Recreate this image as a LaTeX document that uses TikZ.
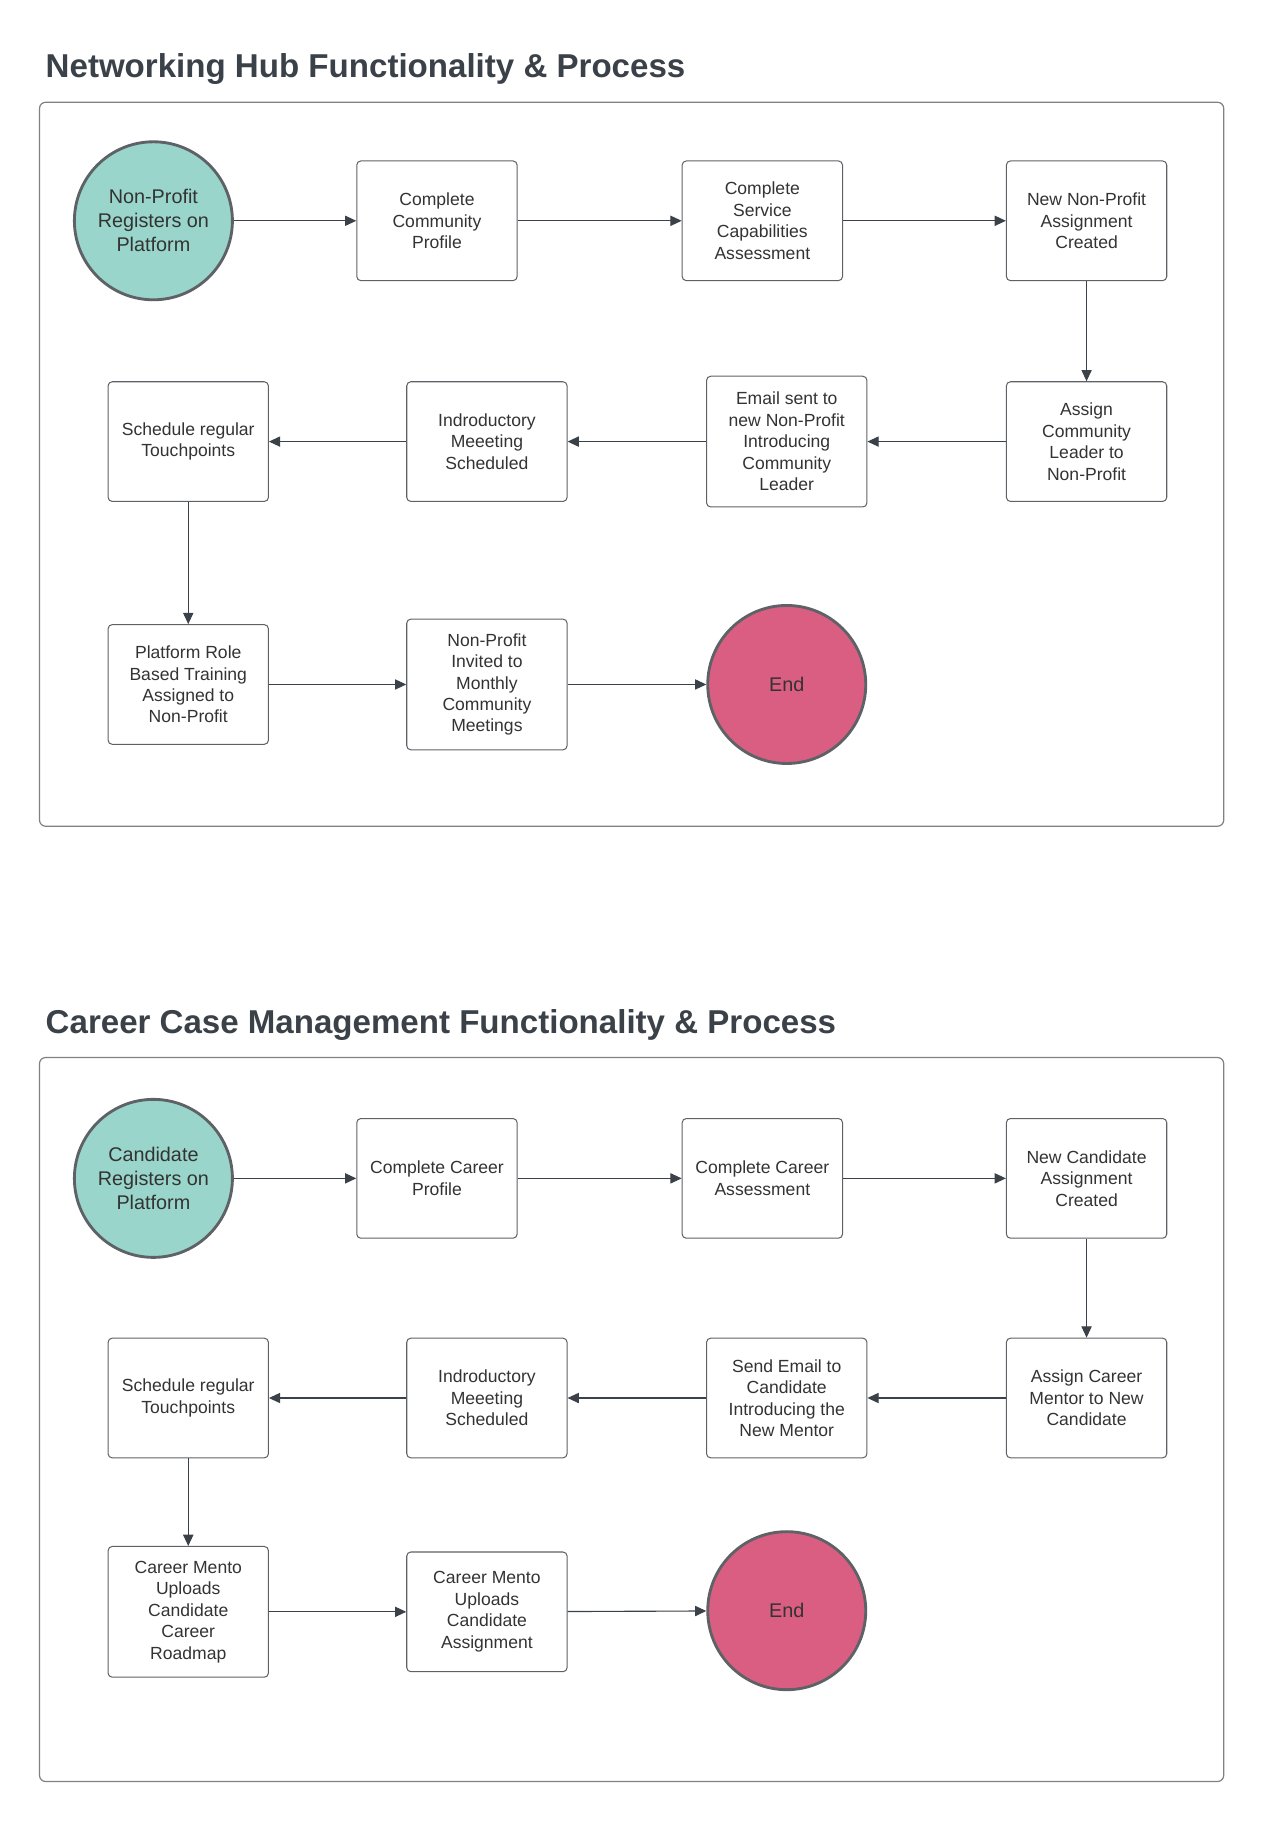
\documentclass[tikz,border=0pt]{standalone}
\usepackage{fontspec}
\setmainfont{Liberation Sans}
\usetikzlibrary{arrows.meta}

\definecolor{inkgray}{HTML}{3B4148}
\definecolor{linegray}{HTML}{5E6266}
\definecolor{startteal}{HTML}{99D5CA}
\definecolor{endpink}{HTML}{DA5E82}

\begin{document}
\begin{tikzpicture}[x=0.02cm, y=-0.02cm,
  title/.style={anchor=west, inner sep=0pt, text=inkgray,
    font=\fontsize{16.2}{19}\selectfont\bfseries},
  panel/.style={draw=linegray!80, line width=0.6pt, rounded corners=3pt},
  proc/.style={draw=linegray, line width=0.5pt, rounded corners=2pt, fill=white,
    minimum width=2.76cm, minimum height=2.06cm, align=center, inner sep=1pt,
    text=black!80, font=\fontsize{8.6}{10.5}\selectfont},
  tall/.style={minimum height=2.25cm},
  startc/.style={circle, draw=linegray, line width=1.4pt, fill=startteal,
    minimum size=2.72cm, inner sep=0pt, align=center, text=black!80,
    font=\fontsize{9.7}{11.7}\selectfont},
  endc/.style={startc, fill=endpink},
  flow/.style={-{Triangle[length=5.5pt, width=5pt]}, draw=inkgray, line width=0.55pt}]

 \useasboundingbox (0,0) rectangle (1088,1567);

 % Networking hub
 \node[title] (t1) at (39,59) {Networking Hub Functionality \& Process};
 \draw[panel] (34,88) rectangle (1053,711);

 \node[startc] (s1) at (132,190) {Non-Profit\\Registers on\\Platform};
 \node[proc] (a1) at (376,190) {Complete\\Community\\Profile};
 \node[proc] (a2) at (656,190) {Complete\\Service\\Capabilities\\Assessment};
 \node[proc] (a3) at (935,190) {New Non-Profit\\Assignment\\Created};

 \node[proc] (a4) at (935,380) {Assign\\Community\\Leader to\\Non-Profit};
 \node[proc, tall] (a5) at (677,380) {Email sent to\\new Non-Profit\\Introducing\\Community\\Leader};
 \node[proc] (a6) at (419,380) {Indroductory\\Meeeting\\Scheduled};
 \node[proc] (a7) at (162,380) {Schedule regular\\Touchpoints};

 \node[proc] (a8) at (162,589) {Platform Role\\Based Training\\Assigned to\\Non-Profit};
 \node[proc, tall] (a9) at (419,589) {Non-Profit\\Invited to\\Monthly\\Community\\Meetings};
 \node[endc] (e1) at (677,589) {End};

 \draw[flow] (s1) -- (a1);
 \draw[flow] (a1) -- (a2);
 \draw[flow] (a2) -- (a3);
 \draw[flow] (a3) -- (a4);
 \draw[flow] (a4) -- (a5);
 \draw[flow] (a5) -- (a6);
 \draw[flow] (a6) -- (a7);
 \draw[flow] (a7) -- (a8);
 \draw[flow] (a8) -- (a9);
 \draw[flow] (a9) -- (e1);

 % Career case management
 \node[title] (t2) at (39,882) {Career Case Management Functionality \& Process};
 \draw[panel] (34,910) rectangle (1053,1533);

 \node[startc] (s2) at (132,1014) {Candidate\\Registers on\\Platform};
 \node[proc] (b1) at (376,1014) {Complete Career\\Profile};
 \node[proc] (b2) at (656,1014) {Complete Career\\Assessment};
 \node[proc] (b3) at (935,1014) {New Candidate\\Assignment\\Created};

 \node[proc] (b4) at (935,1203) {Assign Career\\Mentor to New\\Candidate};
 \node[proc] (b5) at (677,1203) {Send Email to\\Candidate\\Introducing the\\New Mentor};
 \node[proc] (b6) at (419,1203) {Indroductory\\Meeeting\\Scheduled};
 \node[proc] (b7) at (162,1203) {Schedule regular\\Touchpoints};

 \node[proc, tall] (b8) at (162,1387) {Career Mento\\Uploads\\Candidate\\Career\\Roadmap};
 \node[proc] (b9) at (419,1387) {Career Mento\\Uploads\\Candidate\\Assignment};
 \node[endc] (e2) at (677,1386) {End};

 \draw[flow] (s2) -- (b1);
 \draw[flow] (b1) -- (b2);
 \draw[flow] (b2) -- (b3);
 \draw[flow] (b3) -- (b4);
 \draw[flow] (b4) -- (b5);
 \draw[flow] (b5) -- (b6);
 \draw[flow] (b6) -- (b7);
 \draw[flow] (b7) -- (b8);
 \draw[flow] (b8) -- (b9);
 \draw[flow] (b9) -- (e2);
\end{tikzpicture}
\end{document}
